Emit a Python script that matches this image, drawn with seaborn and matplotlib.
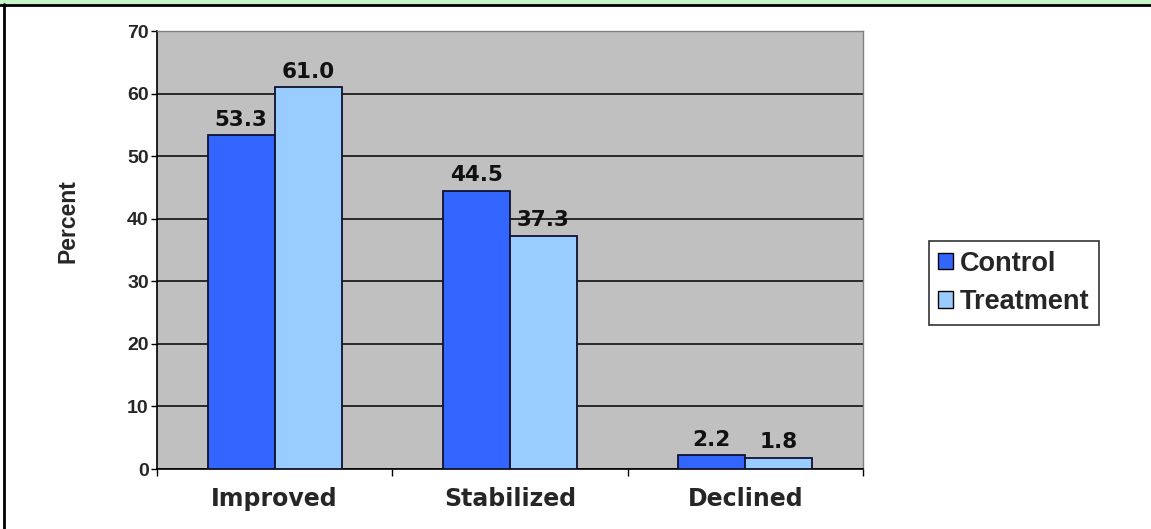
import matplotlib

matplotlib.use("Agg")

import matplotlib.pyplot as plt
import pandas as pd
import seaborn as sns
from matplotlib.lines import Line2D
from matplotlib.patches import Rectangle
from matplotlib.ticker import FixedLocator

outcomes = ["Improved", "Stabilized", "Declined"]
groups = ["Control", "Treatment"]
control_values = [53.3, 44.5, 2.2]
treatment_values = [61.0, 37.3, 1.8]
y_ticks = [0, 10, 20, 30, 40, 50, 60, 70]

colors = {"Control": "#3366FF", "Treatment": "#99CCFF"}

df = pd.DataFrame(
    {
        "outcome": outcomes * 2,
        "group": ["Control"] * 3 + ["Treatment"] * 3,
        "percent": control_values + treatment_values,
    }
)

sns.set_style("white")
plt.rcParams["font.family"] = ["DejaVu Sans"]

fig = plt.figure(figsize=(11.51, 5.29), dpi=100)
ax = fig.add_axes([157 / 1151, 1 - 469 / 529, 706 / 1151, 438 / 529])
ax.set_facecolor("#C0C0C0")

sns.barplot(
    data=df,
    x="outcome",
    y="percent",
    hue="group",
    order=outcomes,
    hue_order=groups,
    palette=colors,
    width=0.57,
    saturation=1,
    edgecolor="#101030",
    linewidth=1.3,
    errorbar=None,
    ax=ax,
    zorder=3,
)

for container in ax.containers:
    ax.bar_label(
        container,
        fmt="%.1f",
        padding=4,
        fontsize=15.5,
        fontweight="bold",
        family="DejaVu Sans",
        color="#111111",
    )

ax.set_ylim(0, 70)
ax.set_xlim(-0.5, 2.5)
ax.set_yticks(y_ticks)
ax.yaxis.grid(True, color="black", linewidth=1.1, zorder=0)
ax.set_axisbelow(True)

for label in ax.get_yticklabels():
    label.set_fontfamily("Liberation Sans")
    label.set_fontweight("bold")
    label.set_fontsize(14)
ax.tick_params(axis="y", direction="out", length=4, width=1, pad=2, color="black", left=True)

ax.xaxis.set_minor_locator(FixedLocator([-0.5, 0.5, 1.5, 2.5]))
ax.tick_params(axis="x", which="major", length=0, pad=13)
ax.tick_params(axis="x", which="minor", direction="out", length=5, width=1, color="black", bottom=True)
for label in ax.get_xticklabels():
    label.set_fontfamily("DejaVu Sans")
    label.set_fontweight("bold")
    label.set_fontsize(17)

ax.set_xlabel("")
ax.set_ylabel("Percent", fontsize=16.5, fontweight="bold", family="Liberation Sans", va="center")
ax.yaxis.set_label_coords(-0.126, 0.566)

for side in ["left", "bottom"]:
    ax.spines[side].set_color("black")
    ax.spines[side].set_linewidth(1.2)
for side in ["top", "right"]:
    ax.spines[side].set_visible(True)
    ax.spines[side].set_color("#808080")
    ax.spines[side].set_linewidth(1)

handles = [
    Rectangle((0, 0), 1, 1, facecolor=colors[g], edgecolor="black", linewidth=1)
    for g in groups
]
leg = ax.legend(
    handles,
    groups,
    loc="center left",
    bbox_to_anchor=(929 / 1151, 1 - 283 / 529),
    bbox_transform=fig.transFigure,
    frameon=True,
    fancybox=False,
    edgecolor="black",
    prop={"family": "Liberation Sans", "weight": "bold", "size": 19.5},
    handlelength=0.55,
    handleheight=0.55,
    handletextpad=0.25,
    labelspacing=0.45,
    borderpad=0.35,
    borderaxespad=0,
)
leg.get_frame().set_linewidth(1.2)

# page decoration: green strip, rule and left border
fig.add_artist(Rectangle((0, 1 - 4 / 529), 1, 4 / 529, transform=fig.transFigure,
                         facecolor="#C8F5C8", edgecolor="none"))
fig.add_artist(Line2D([0, 1], [1 - 4.5 / 529, 1 - 4.5 / 529], transform=fig.transFigure,
                      color="black", linewidth=2))
fig.add_artist(Line2D([4 / 1151, 4 / 1151], [0, 1 - 4 / 529], transform=fig.transFigure,
                      color="black", linewidth=2))

fig.savefig("out.png", dpi=100)
